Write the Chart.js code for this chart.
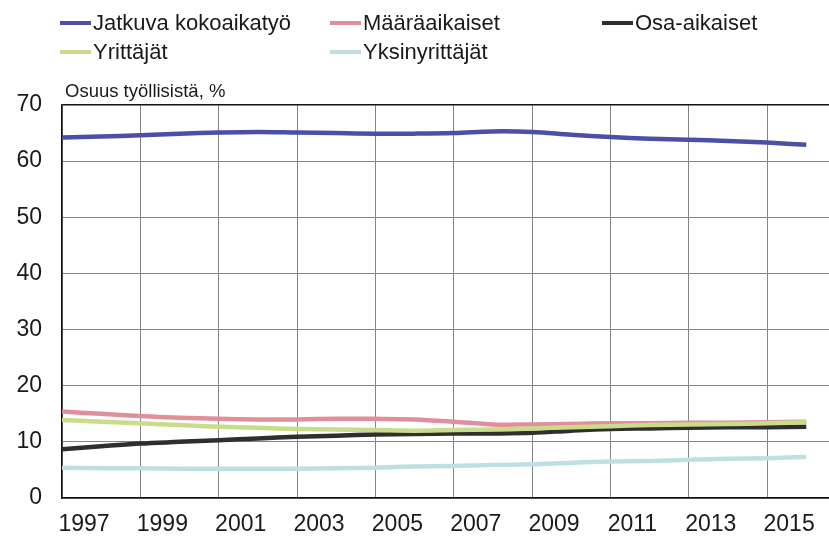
<!DOCTYPE html>
<html lang="fi">
<head>
<meta charset="UTF-8">
<script src="https://cdn.jsdelivr.net/npm/chart.js"></script>
<title>Osuus työllisistä</title>
<style>
  body { margin: 0; background: #fff; font-family: "Liberation Sans", Arial, sans-serif; color: #1a1a1a; }
  #wrap { position: relative; width: 829px; height: 540px; overflow: hidden; }
  #grafiikka { position: absolute; left: 0; top: 0; }
  .leg { position: absolute; display: flex; align-items: center; height: 22px; font-size: 22px; line-height: 22px; white-space: nowrap; }
  .leg span.viiva { display: inline-block; width: 31px; height: 4px; margin-right: 2px; }
  #otsikko { position: absolute; left: 65px; top: 82px; font-size: 18.5px; line-height: 18px; white-space: nowrap; }
</style>
</head>
<body>
<div id="wrap">
  <canvas id="grafiikka" width="829" height="540"></canvas>
  <div id="otsikko">Osuus työllisistä, %</div>
</div>

<script>
  // vuodet ja sarjat (luettu kuvasta)
  const vuodet = [1997,1998,1999,2000,2001,2002,2003,2004,2005,2006,2007,2008,2009,2010,2011,2012,2013,2014,2015,2016]
  const jatkuva = [64.2,64.4,64.6,64.9,65.1,65.2,65.1,65.0,64.9,64.9,65.0,65.3,65.2,64.7,64.3,64.0,63.8,63.6,63.3,62.9]
  const maaraaikaiset = [15.4,15.0,14.6,14.3,14.1,14.0,14.0,14.1,14.1,14.0,13.6,13.1,13.1,13.2,13.3,13.3,13.4,13.4,13.5,13.6]
  const osaaikaiset = [8.7,9.2,9.7,10.0,10.3,10.6,10.9,11.1,11.3,11.4,11.5,11.5,11.6,12.0,12.3,12.4,12.5,12.6,12.6,12.7]
  const yrittajat = [13.9,13.6,13.3,13.0,12.7,12.5,12.3,12.2,12.1,12.0,12.1,12.2,12.4,12.6,12.8,13.0,13.1,13.2,13.3,13.5]
  const yksinyrittajat = [5.4,5.3,5.3,5.2,5.2,5.2,5.2,5.3,5.4,5.6,5.7,5.9,6.0,6.3,6.5,6.6,6.8,7.0,7.1,7.3]

  const sarjaNimet = ["Jatkuva kokoaikatyö","Määräaikaiset","Osa-aikaiset","Yrittäjät","Yksinyrittäjät"]
  const sarjaVarit = ["#4b4fa6","#e0909a","#2f2f2f","#c9dc8a","#bfe0e3"]
  const sarjat = [jatkuva, maaraaikaiset, osaaikaiset, yrittajat, yksinyrittajat]

  const xTikit = [1997,1999,2001,2003,2005,2007,2009,2011,2013,2015]
  const yTikit = [0,10,20,30,40,50,60,70]

  // selite html:nä, kaksi riviä
  const selitePaikat = [[60,22.5],[330,22.5],[602,22.5],[60,52],[330,52]]
  sarjaNimet.forEach((nimi, i) => {
    const d = document.createElement('div')
    d.className = 'leg'
    d.style.left = selitePaikat[i][0] + 'px'
    d.style.top = (selitePaikat[i][1] - 11) + 'px'
    d.innerHTML = '<span class="viiva" style="background:' + sarjaVarit[i] + '"></span>' + nimi
    document.getElementById('wrap').appendChild(d)
  })

  const ctx = document.getElementById('grafiikka')
  const fontti = "'Liberation Sans', Arial, sans-serif"

  new Chart(ctx, {
    type: 'line',
    data: {
      datasets: sarjat.map((s, i) => ({
        label: sarjaNimet[i],
        data: s.map((v, j) => ({ x: vuodet[j], y: v })),
        borderColor: sarjaVarit[i],
        backgroundColor: sarjaVarit[i],
        borderWidth: 4.5,
        pointRadius: 0,
        tension: 0.35,
        order: sarjat.length - i
      }))
    },
    options: {
      responsive: false,
      animation: false,
      devicePixelRatio: 1,
      layout: { padding: { top: 105, right: 0, bottom: 0, left: 0 } },
      plugins: { legend: { display: false }, tooltip: { enabled: false } },
      scales: {
        x: {
          type: 'linear',
          min: 1997,
          max: 2016.58,
          afterBuildTicks: (sc) => { sc.ticks = xTikit.map(v => ({ value: v })) },
          afterFit: (sc) => { sc.height = 42 },
          grid: { color: '#858585', lineWidth: 1, drawTicks: false },
          border: { color: '#111', width: 1.5 },
          ticks: {
            font: { family: fontti, size: 23 },
            color: '#1a1a1a',
            padding: 13,
            labelOffset: 22,
            maxRotation: 0,
            autoSkip: false,
            callback: (v) => String(v)
          }
        },
        y: {
          min: 0,
          max: 70,
          afterBuildTicks: (sc) => { sc.ticks = yTikit.map(v => ({ value: v })) },
          afterFit: (sc) => { sc.width = 62 },
          grid: {
            color: (c) => c.tick && c.tick.value === 70 ? '#111' : '#858585',
            lineWidth: (c) => c.tick && c.tick.value === 70 ? 1.5 : 1,
            drawTicks: false
          },
          border: { color: '#111', width: 1.5 },
          ticks: {
            font: { family: fontti, size: 23 },
            color: '#1a1a1a',
            padding: 20
          }
        }
      }
    }
  })
</script>
</body>
</html>
